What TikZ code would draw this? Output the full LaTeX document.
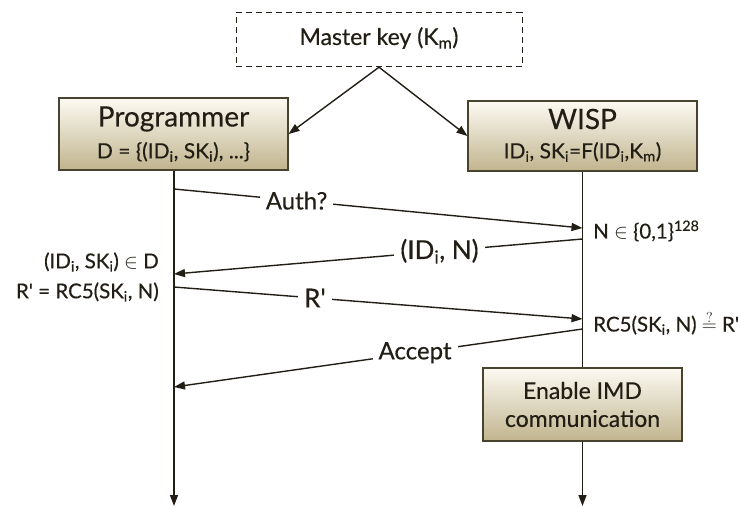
\documentclass[tikz,border=0pt]{standalone}
\usepackage{fontspec}
\setmainfont{Lato}[FakeBold=0.4]
\usetikzlibrary{arrows.meta}
\definecolor{ink}{HTML}{221E16}
\definecolor{boxtop}{HTML}{FCFAF2}
\definecolor{boxbot}{HTML}{C1B48E}
\definecolor{boxedge}{HTML}{48432F}
\newcommand{\sbs}[1]{\textsubscript{#1}}
\newcommand{\prm}{\textquotesingle}
\begin{document}
\begin{tikzpicture}[x=1pt,y=-1pt,
  actor/.style={draw=boxedge, line width=1.1pt, top color=boxtop, bottom color=boxbot,
    rectangle, inner sep=0pt},
  keybox/.style={draw=ink, line width=1pt, dash pattern=on 6pt off 4pt, rectangle,
    inner sep=0pt, minimum width=286pt, minimum height=54pt},
  msg/.style={draw=ink, line width=1.4pt, -{Triangle[length=11pt,width=8pt]}},
  life/.style={draw=ink, line width=1.4pt},
  lifeend/.style={life, -{Triangle[length=11pt,width=8pt]}},
  tag/.style={fill=white, inner sep=6pt, text=ink, font=\fontsize{24}{28}\selectfont},
  bigtag/.style={tag, font=\fontsize{26}{30}\selectfont},
  note/.style={text=ink, inner sep=0pt, font=\fontsize{20.5}{24}\selectfont},
  title/.style={text=ink, inner sep=0pt, font=\fontsize{28}{32}\selectfont},
  sub/.style={text=ink, inner sep=0pt, font=\fontsize{21}{24}\selectfont}]
\useasboundingbox (0,0) rectangle (741,507);

% master key and the two parties
\node[keybox] (master) at (379,39.7) {};
\node[text=ink, inner sep=0pt, font=\fontsize{23}{26}\selectfont] (mastertxt) at (379,38) {Master key (K\sbs{m})};

\node[actor, minimum width=229pt, minimum height=72pt] (prog) at (173.5,134) {};
\node[title] (progtitle) at (173.5,119) {Programmer};
\node[sub] (progsub) at (173.5,152) {D = \{(ID\sbs{i}, SK\sbs{i}), ...\}};

\node[actor, minimum width=229pt, minimum height=70pt] (wisp) at (582.5,136) {};
\node[title] (wisptitle) at (582.5,119) {WISP};
\node[sub] (wispsub) at (582.5,152) {ID\sbs{i}, SK\sbs{i}=F(ID\sbs{i},K\sbs{m})};

\node[actor, minimum width=199pt, minimum height=73pt, align=center, text=ink,
  font=\fontsize{23}{28}\selectfont] (enable) at (582.5,404.5) {Enable IMD\\communication};

% key distribution
\draw[msg] (master.south) -- (prog.east);
\draw[msg] (master.south) -- (wisp.west);

% lifelines
\coordinate (progend) at (174,506);
\coordinate (wispend) at (582.5,506);
\draw[lifeend] (prog.south -| progend) -- (progend);
\draw[life] (wisp.south) -- (enable.north);
\draw[lifeend] (enable.south) -- (wispend);

% message end points on the lifelines
\coordinate (p1) at (174,189);
\coordinate (w1) at (582.5,228);
\coordinate (w2) at (582.5,239);
\coordinate (p2) at (174,274);
\coordinate (p3) at (174,287);
\coordinate (w3) at (582.5,319);
\coordinate (w4) at (582.5,329);
\coordinate (p4) at (174,387);

\draw[msg] (p1) -- node[tag, pos=0.30] (auth) {Auth?} (w1);
\draw[msg] (w2) -- node[bigtag, pos=0.35] (idn) {(ID\sbs{i}, N)} (p2);
\draw[msg] (p3) -- node[bigtag, pos=0.345] (rprime) {R\prm} (w3);
\draw[msg] (w4) -- node[tag, pos=0.41] (accept) {Accept} (p4);

% local computations
\node[note, anchor=east] (lookup) at (159,262) {(ID\sbs{i}, SK\sbs{i}) $\in$ D};
\node[note, anchor=east] (resp) at (159,292) {R\prm{} = RC5(SK\sbs{i}, N)};
\node[note, anchor=west] (nonce) at (593,231) {N $\in$ \{0,1\}\textsuperscript{128}};
\node[note, anchor=west] (check) at (593,323) {RC5(SK\sbs{i}, N) $\stackrel{?}{=}$ R\prm};
\end{tikzpicture}
\end{document}
